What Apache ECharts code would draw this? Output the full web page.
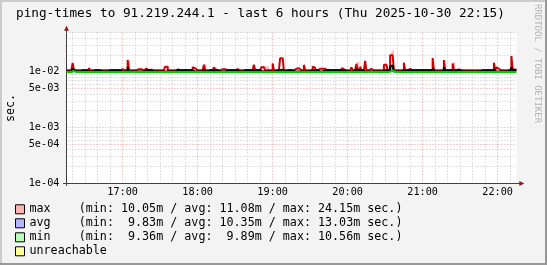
<!DOCTYPE html>
<html><head><meta charset="utf-8">
<script src="https://cdn.jsdelivr.net/npm/echarts@6/dist/echarts.min.js"></script>
<style>html,body{margin:0;padding:0;background:#f3f3f3;}#c{width:547px;height:265px;}</style>
</head><body><div id="c"></div>
<script>
const titleText = 'ping-times to 91.219.244.1 - last 6 hours (Thu 2025-10-30 22:15)';
const startMin = 975, endMin = 1335, stepMin = 1;   // 16:15 .. 22:15, 1-minute samples
const hourTicks = [1020, 1080, 1140, 1200, 1260, 1320];
const hourLabels = ['17:00', '18:00', '19:00', '20:00', '21:00', '22:00'];
const yLabelValues = [1e-4, 5e-4, 1e-3, 5e-3, 1e-2];
const yLabelTexts = ['1e-04', '5e-04', '1e-03', '5e-03', '1e-02'];
const yMin = 1e-4, yMax = 5e-2;

// values in milliseconds, one per minute from 16:15
const maxMs = [
10.6,10.6,10.6,10.6,10.6,14.3,10.6,10.6,10.6,10.6,10.6,10.6,10.6,10.6,11.0,10.6,10.6,10.6,11.6,10.6,
10.6,10.6,10.6,10.6,10.6,10.6,10.6,10.6,10.6,10.6,10.6,10.6,10.6,10.6,10.6,10.6,10.6,10.6,10.6,10.6,
10.6,10.6,10.6,11.1,11.1,10.6,10.6,10.6,10.6,16.2,10.6,10.6,10.6,10.6,10.6,10.6,10.6,11.1,11.1,11.1,
10.6,10.6,10.6,11.4,11.4,10.6,10.6,10.9,10.6,10.6,10.6,10.6,10.6,10.6,10.6,10.6,10.6,10.6,10.6,12.3,
12.3,10.6,10.6,10.6,10.6,10.6,10.6,10.6,10.6,11.0,10.6,10.6,10.6,10.6,10.6,10.6,10.6,10.6,10.6,10.6,
10.6,12.0,11.5,10.6,10.6,10.6,10.6,10.6,10.6,10.6,13.3,10.6,10.6,10.6,10.6,10.6,10.6,10.6,12.0,11.0,
10.6,10.6,10.6,10.6,11.1,11.1,11.1,10.6,10.6,10.6,10.6,10.6,10.6,10.6,10.6,10.6,11.1,11.1,10.6,10.6,
10.6,10.6,10.6,10.6,10.6,10.6,10.6,10.6,10.6,10.6,13.3,10.6,10.6,10.6,10.6,10.6,12.0,12.0,11.5,10.6,
10.6,10.6,10.6,10.6,10.6,14.0,10.6,10.6,10.6,10.6,10.6,17.5,17.5,17.5,10.6,10.6,10.6,10.6,11.4,10.6,
10.6,10.6,11.5,11.3,11.5,11.5,11.3,10.6,10.6,10.6,13.2,10.6,10.6,10.6,10.6,10.6,10.6,12.3,11.8,10.6,
10.6,11.3,11.3,11.3,11.3,11.3,11.3,10.6,10.6,10.6,10.6,10.6,10.6,10.9,10.6,10.6,10.6,10.6,10.6,11.5,
11.5,10.6,10.6,10.6,10.6,10.6,10.6,10.6,12.0,10.6,10.6,10.6,13.8,10.6,10.6,12.3,10.6,10.6,10.6,15.7,
10.6,10.6,11.2,11.2,10.6,10.6,10.6,10.6,10.6,10.6,10.6,10.6,10.6,10.6,13.3,13.3,13.3,10.6,10.6,19.7,
19.7,19.7,10.6,10.6,10.6,10.6,10.6,10.6,10.6,10.6,14.5,10.6,10.6,10.6,11.2,11.2,10.6,10.6,10.6,10.6,
10.6,10.6,10.6,10.6,10.6,11.5,10.6,10.6,10.6,10.6,10.6,10.6,10.6,17.6,10.6,10.6,10.6,10.6,10.6,10.6,
10.6,10.6,16.2,10.6,10.6,10.6,10.6,10.6,10.6,14.1,10.6,10.6,10.6,11.0,10.6,10.6,10.6,10.6,10.6,10.6,
10.6,10.6,11.0,10.6,10.6,10.6,10.6,10.6,10.6,10.6,10.6,10.6,10.6,10.6,10.6,10.6,10.6,10.6,10.6,10.6,
10.6,10.6,14.5,10.6,12.0,11.3,10.6,10.6,10.6,10.6,11.0,10.6,10.6,10.6,10.6,10.6,19.1,11.0,11.0,10.6
];
// highest single ping per minute (pale area above the max line)
const peakMs = [
10.6,10.6,10.6,10.6,10.6,14.3,10.6,10.6,10.6,10.6,10.6,10.6,10.6,10.6,11.0,10.6,10.6,10.6,11.6,10.6,
10.6,10.6,10.6,10.6,10.6,10.6,10.6,10.6,10.6,10.6,10.6,10.6,10.6,10.6,10.6,10.6,10.6,10.6,10.6,10.6,
10.6,10.6,10.6,11.1,11.1,10.6,10.6,10.6,10.6,16.2,16.5,10.6,10.6,10.6,10.6,10.6,10.6,11.1,11.1,11.1,
10.6,10.6,10.6,11.4,11.4,10.6,10.6,10.9,10.6,10.6,10.6,10.6,10.6,10.6,10.6,10.6,10.6,10.6,10.6,12.3,
12.6,12.6,10.6,10.6,10.6,10.6,10.6,10.6,10.6,11.0,10.6,10.6,10.6,10.6,10.6,10.6,10.6,10.6,10.6,10.6,
10.6,12.0,12.3,10.6,10.6,10.6,10.6,10.6,10.6,10.6,13.6,13.6,10.6,10.6,10.6,10.6,10.6,10.6,12.0,12.3,
10.6,10.6,10.6,10.6,11.1,11.1,11.1,10.6,10.6,11.3,10.6,10.6,10.6,10.6,10.6,10.6,11.1,11.1,10.6,10.6,
10.6,10.6,10.6,10.6,10.6,10.6,10.6,10.6,10.6,10.6,13.3,10.6,10.6,10.6,10.6,12.6,12.6,12.6,12.6,12.6,
12.6,12.6,10.6,10.6,10.6,14.0,10.6,10.6,10.6,10.6,10.6,17.5,17.5,17.5,10.6,10.6,10.6,10.6,11.4,10.6,
10.6,10.6,11.5,11.3,11.5,11.5,11.3,10.6,10.6,10.6,13.8,10.6,10.6,10.6,10.6,10.6,10.6,12.3,11.8,10.6,
10.6,11.3,11.3,11.3,11.3,11.3,11.3,10.6,10.6,10.6,10.6,10.6,10.6,10.9,10.6,10.6,10.6,10.6,10.6,12.0,
12.0,10.6,10.6,10.6,10.6,10.6,10.6,10.6,12.0,10.6,10.6,10.6,14.9,14.9,10.6,12.3,10.6,10.6,10.6,15.7,
10.6,10.6,11.2,11.2,10.6,10.6,10.6,10.6,10.6,10.6,10.6,10.6,10.6,10.6,13.3,13.3,13.3,10.6,10.6,19.7,
23.0,24.15,10.6,10.6,10.6,10.6,10.6,10.6,10.6,10.6,14.5,10.6,10.6,10.6,11.2,11.2,11.4,10.6,10.6,10.6,
10.6,10.6,10.6,10.6,10.6,11.5,10.6,10.6,10.6,10.6,10.6,10.6,10.6,18.0,10.6,10.6,10.6,10.6,10.6,10.6,
10.6,10.6,16.2,10.6,10.6,10.6,10.6,10.6,10.6,14.8,14.8,10.6,10.6,11.0,10.6,10.6,10.6,10.6,10.6,10.6,
10.6,10.6,11.0,10.6,10.6,10.6,10.6,10.6,10.6,10.6,10.6,10.6,10.6,10.6,10.6,10.6,10.6,10.6,10.6,10.6,
10.6,10.6,14.5,10.6,12.0,11.3,10.6,10.6,10.6,10.6,11.0,10.6,10.6,10.6,10.6,10.6,19.1,11.0,11.0,10.6
];
const avgMs = [
10.1,10.1,10.1,10.1,10.6,11.3,10.6,10.6,10.1,10.1,10.1,10.1,10.6,10.6,10.6,10.6,10.6,10.6,10.1,10.1,
10.1,10.1,10.6,10.6,10.6,10.6,10.6,10.6,10.1,10.1,10.1,10.1,10.1,10.1,10.6,10.6,10.6,10.6,10.6,10.6,
10.6,10.6,10.6,10.6,10.1,10.1,10.1,10.1,10.1,12.1,10.1,10.1,10.1,10.1,10.1,10.1,10.1,10.1,10.1,10.1,
10.1,10.1,10.6,10.6,10.6,10.6,10.6,10.6,10.1,10.1,10.1,10.1,10.1,10.1,10.1,10.1,10.1,10.1,10.1,10.1,
10.1,10.1,10.1,10.1,10.1,10.1,10.1,10.1,10.1,11.0,10.6,10.6,10.6,10.6,10.6,10.6,10.6,10.6,10.6,10.6,
10.6,10.6,10.1,10.1,10.1,10.1,10.1,10.1,10.1,10.1,11.0,10.1,10.1,10.1,10.6,10.6,10.6,10.6,10.6,10.6,
10.6,10.6,10.1,10.1,10.1,10.1,10.1,10.1,10.6,10.6,10.6,10.6,10.6,10.6,10.6,10.6,10.6,10.6,10.1,10.1,
10.1,10.1,10.6,10.6,10.6,10.6,10.6,10.6,10.6,10.6,10.6,10.6,10.6,10.6,10.6,10.6,10.1,10.1,10.1,10.1,
10.1,10.1,10.1,10.1,10.1,10.9,10.1,10.1,10.6,10.6,10.6,10.9,10.9,10.6,10.1,10.1,10.6,10.6,10.6,10.6,
10.6,10.6,10.1,10.1,10.1,10.1,10.1,10.1,10.1,10.1,10.1,10.1,10.1,10.1,10.1,10.1,10.6,10.6,10.6,10.6,
10.6,10.6,10.1,10.1,10.1,10.1,10.6,10.6,10.6,10.6,10.6,10.6,10.6,10.6,10.6,10.6,10.6,10.6,10.6,10.6,
10.6,10.6,10.6,10.6,10.1,10.1,10.1,10.1,10.1,10.1,10.6,10.6,11.0,10.6,10.6,10.6,10.6,10.6,10.1,10.9,
10.1,10.1,10.1,10.1,10.1,10.1,10.1,10.1,10.1,10.1,10.1,10.1,10.1,10.1,10.6,10.6,10.6,10.6,10.6,12.4,
13.0,12.8,10.1,10.1,10.1,10.1,10.1,10.1,10.6,10.6,11.0,10.6,10.6,10.6,10.6,10.6,10.6,10.6,10.6,10.6,
10.6,10.6,10.6,10.6,10.6,10.6,10.6,10.6,10.6,10.6,10.6,10.6,10.1,11.2,10.1,10.1,10.1,10.1,10.1,10.1,
10.6,10.6,12.0,10.6,10.6,10.6,10.6,10.6,10.6,10.6,10.6,10.6,10.6,10.6,10.6,10.6,10.1,10.1,10.1,10.1,
10.1,10.1,10.1,10.1,10.1,10.1,10.1,10.1,10.1,10.1,10.1,10.1,10.6,10.6,10.6,10.6,10.6,10.6,10.6,10.6,
10.6,10.6,11.0,10.1,10.1,10.1,10.1,10.1,10.1,10.1,10.1,10.1,10.1,10.1,10.6,10.6,12.0,10.6,10.6,10.6
];
const minMs = [
9.9,9.9,9.9,9.9,9.9,10.3,9.9,9.9,9.85,9.85,9.85,9.85,9.85,9.85,9.85,9.85,9.85,9.85,9.85,9.85,
9.85,9.85,9.9,9.9,9.9,9.9,9.85,9.85,9.85,9.85,9.85,9.85,9.85,9.85,9.85,9.85,9.4,9.85,9.85,9.85,
9.85,9.85,9.85,9.85,9.85,9.85,9.4,9.85,9.85,10.0,9.85,9.85,9.85,9.85,9.85,9.85,9.85,9.85,9.5,9.85,
9.85,9.85,9.9,9.9,9.9,9.9,9.85,9.85,9.85,9.85,9.85,9.85,9.85,9.85,9.85,9.85,9.85,9.85,9.85,9.85,
9.9,9.85,9.85,9.85,9.85,9.85,9.85,9.85,9.85,9.85,9.9,9.9,9.85,9.85,9.85,9.85,9.85,9.85,9.85,9.85,
9.9,9.9,9.85,9.85,9.85,9.85,9.85,9.85,9.85,9.85,9.9,9.9,9.5,9.85,9.85,9.85,9.85,9.85,9.85,9.85,
9.85,9.85,9.85,9.85,9.85,9.85,9.85,9.85,9.85,9.85,9.85,9.85,9.85,9.85,9.85,9.85,9.85,9.85,9.85,9.85,
9.5,9.85,9.85,9.85,9.85,9.85,9.85,9.85,9.85,9.85,9.85,9.85,9.85,9.85,9.85,9.85,9.85,9.85,9.85,9.85,
9.85,9.85,9.85,9.85,9.9,9.9,9.85,9.85,9.85,9.85,9.85,10.0,10.0,9.85,9.85,9.85,9.5,9.85,9.85,9.85,
9.85,9.85,9.85,9.85,9.85,9.85,9.85,9.85,9.85,9.85,9.9,9.9,9.85,9.85,9.85,9.85,9.85,9.85,9.85,9.85,
9.6,9.85,9.85,9.85,9.85,9.85,9.85,9.85,9.85,9.85,9.85,9.85,9.85,9.85,9.85,9.85,9.85,9.85,9.85,9.85,
9.85,9.85,9.85,9.85,9.85,9.85,9.85,9.85,9.85,9.85,9.85,9.85,9.9,9.9,9.85,9.85,9.85,9.85,9.85,9.85,
9.85,9.85,9.85,9.85,9.85,9.85,9.85,9.85,9.5,9.85,9.85,9.85,9.85,9.85,9.85,9.85,9.85,9.85,9.85,10.2,
10.56,10.3,9.85,9.85,9.85,9.85,9.85,9.85,9.85,9.85,9.9,9.9,9.85,9.85,9.85,9.85,9.85,9.85,9.85,9.85,
9.85,9.85,9.85,9.85,9.85,9.85,9.85,9.85,9.85,9.85,9.85,9.85,9.9,9.9,9.85,9.85,9.6,9.85,9.85,9.85,
9.85,9.85,10.0,9.85,9.85,9.85,9.85,9.85,9.9,9.9,9.85,9.85,9.85,9.85,9.85,9.85,9.85,9.85,9.85,9.85,
9.5,9.85,9.85,9.85,9.85,9.85,9.85,9.85,9.85,9.85,9.85,9.85,9.85,9.85,9.85,9.85,9.85,9.85,9.85,9.85,
9.85,9.85,9.9,9.9,9.85,9.85,9.85,9.85,9.85,9.85,9.85,9.85,9.85,9.85,9.85,9.85,10.0,9.85,9.85,9.85
];
const legendNames = ['max', 'avg', 'min', 'unreachable'];
const legendTexts = {
  max: 'max    (min: 10.05m / avg: 11.08m / max: 24.15m sec.)',
  avg: 'avg    (min:  9.83m / avg: 10.35m / max: 13.03m sec.)',
  min: 'min    (min:  9.36m / avg:  9.89m / max: 10.56m sec.)',
  unreachable: 'unreachable'
};

const F = 'DejaVu Sans Mono';
const COL = { pink: '#ffb4b4', blue: '#b4b4ff', green: '#b4ffb4', yellow: '#ffff9a',
  red: '#cc0000', black: '#000000', dgreen: '#00cc00', gridGrey: '#c6c6c6', gridRed: '#ef9c9c',
  axis: '#404040', arrow: '#8e1b1b' };

const times = maxMs.map((_, i) => startMin + i * stepMin);
const stepPts = arr => {
  const d = arr.map((v, i) => [times[i], v / 1000]);
  d.push([endMin, arr[arr.length - 1] / 1000]);
  return d;
};
const bandRows = (lo, hi) => lo.map((v, i) => [times[i], v / 1000, hi[i] / 1000]);

// grid line positions
const minorX = [];
for (let m = startMin + 5; m < endMin; m += 10) if (m % 60 !== 0) minorX.push(m);
const L = Math.log10;
const minorY = [];
[-4, -3, -2].forEach(d => [2, 3, 4, 6, 7, 8, 9].forEach(k => {
  const v = L(k) + d; if (v <= L(yMax) + 1e-9) minorY.push(v);
}));
minorY.push(L(yMax));
const majorY = yLabelValues.map(v => L(v));

const bandItem = color => (params, api) => {
  const t = api.value(0), lo = api.value(1), hi = api.value(2);
  if (!(hi > lo)) return null;
  const p1 = api.coord([t, hi]);
  const p2 = api.coord([t + stepMin, lo]);
  return { type: 'rect', shape: { x: p1[0], y: p1[1], width: p2[0] - p1[0], height: p2[1] - p1[1] },
    style: { fill: color } };
};

const chart = echarts.init(document.getElementById('c'), null, { renderer: 'canvas' });
chart.setOption({
  animation: false,
  backgroundColor: '#f3f3f3',
  title: { text: titleText, left: 16, top: 6, padding: 0,
    textStyle: { fontFamily: F, fontSize: 12.7, fontWeight: 'normal', color: '#000', lineHeight: 15 } },
  grid: { left: 66.4, right: 30.6, top: 32.7, bottom: 81.7, show: true, backgroundColor: '#ffffff',
    borderWidth: 0, containLabel: false, outerBoundsMode: 'none' },
  legend: {
    orient: 'vertical', left: 15, top: 202.3, padding: 0, itemGap: 0, itemWidth: 9, itemHeight: 9,
    icon: 'rect', selectedMode: false,
    textStyle: { fontFamily: F, fontSize: 11.7, lineHeight: 14, color: '#000' },
    formatter: name => legendTexts[name],
    data: [
      { name: 'max', itemStyle: { color: COL.pink, borderColor: '#000', borderWidth: 1 } },
      { name: 'avg', itemStyle: { color: COL.blue, borderColor: '#000', borderWidth: 1 } },
      { name: 'min', itemStyle: { color: COL.green, borderColor: '#000', borderWidth: 1 } },
      { name: 'unreachable', itemStyle: { color: COL.yellow, borderColor: '#000', borderWidth: 1 } }
    ]
  },
  xAxis: [
    { type: 'value', min: startMin, max: endMin, position: 'bottom',
      axisLine: { show: true, lineStyle: { color: COL.axis, width: 1 } },
      axisTick: { show: false, customValues: hourTicks },
      axisLabel: { show: true, customValues: hourTicks, margin: 4, fontFamily: F, fontSize: 10.2, color: '#000',
        formatter: v => hourLabels[hourTicks.indexOf(Math.round(v))] || '' },
      splitLine: { show: true, lineStyle: { color: COL.gridRed, width: 1, type: [1, 2] } } },
    { type: 'value', min: startMin, max: endMin, position: 'bottom',
      axisLine: { show: false }, axisLabel: { show: false },
      axisTick: { show: false, customValues: minorX },
      splitLine: { show: true, lineStyle: { color: COL.gridGrey, width: 1, type: [1, 2] } } }
  ],
  yAxis: [
    { type: 'log', logBase: 10, min: yMin, max: yMax, position: 'left',
      name: 'sec.', nameLocation: 'middle', nameRotate: 90, nameGap: 49,
      nameTextStyle: { fontFamily: F, fontSize: 11.7, color: '#000' },
      axisLine: { show: true, lineStyle: { color: COL.axis, width: 1 } },
      axisTick: { show: false }, axisLabel: { show: false }, splitLine: { show: false } },
    { type: 'value', min: L(yMin), max: L(yMax), position: 'left',
      axisLine: { show: false }, axisLabel: { show: false },
      axisTick: { show: false, customValues: minorY },
      splitLine: { show: true, lineStyle: { color: COL.gridGrey, width: 1, type: [1, 2] } } },
    { type: 'value', min: L(yMin), max: L(yMax), position: 'left',
      axisLine: { show: false },
      axisTick: { show: false, customValues: majorY },
      axisLabel: { show: true, customValues: majorY, margin: 7, fontFamily: F, fontSize: 10.2, color: '#000',
        formatter: v => { const i = majorY.findIndex(m => Math.abs(m - v) < 1e-6); return i >= 0 ? yLabelTexts[i] : ''; } },
      splitLine: { show: true, lineStyle: { color: COL.gridRed, width: 1, type: [1, 2] } } }
  ],
  series: [
    { name: 'max', type: 'custom', xAxisIndex: 0, yAxisIndex: 0, renderItem: bandItem(COL.pink),
      encode: { x: 0, y: [1, 2] }, data: bandRows(maxMs, peakMs), silent: true, z: 2 },
    { name: 'avg', type: 'custom', xAxisIndex: 0, yAxisIndex: 0, renderItem: bandItem(COL.blue),
      encode: { x: 0, y: [1, 2] }, data: bandRows(minMs, avgMs), silent: true, z: 2 },
    { name: 'maxLine', type: 'line', step: 'end', symbol: 'none', data: stepPts(maxMs),
      lineStyle: { color: COL.red, width: 2 }, silent: true, z: 3 },
    { name: 'avgLine', type: 'line', step: 'end', symbol: 'none', data: stepPts(avgMs),
      lineStyle: { color: COL.black, width: 2 }, silent: true, z: 4 },
    { name: 'min', type: 'line', step: 'end', symbol: 'none', data: stepPts(minMs),
      itemStyle: { color: COL.dgreen },
      lineStyle: { color: COL.dgreen, width: 2 }, silent: true, z: 5 },
    { name: 'unreachable', type: 'line', data: [], symbol: 'none', itemStyle: { color: COL.yellow } }
  ],
  graphic: [
    { type: 'line', silent: true, shape: { x1: 63, y1: 183.5, x2: 520, y2: 183.5 }, style: { stroke: COL.axis, lineWidth: 1 } },
    { type: 'line', silent: true, shape: { x1: 66.5, y1: 186, x2: 66.5, y2: 30 }, style: { stroke: COL.axis, lineWidth: 1 } },
    { type: 'polygon', silent: true, shape: { points: [[519.3, 181], [524.3, 183.5], [519.3, 186]] }, style: { fill: COL.arrow } },
    { type: 'polygon', silent: true, shape: { points: [[64, 30.7], [66.5, 25.7], [69, 30.7]] }, style: { fill: COL.arrow } },
    { type: 'text', silent: true, x: 537.5, y: 63.5, rotation: -Math.PI / 2,
      style: { text: 'RRDTOOL / TOBI OETIKER', font: '9px "DejaVu Sans Mono"', fill: '#b4b4b4',
        align: 'center', verticalAlign: 'middle' } },
    { type: 'rect', silent: true, shape: { x: 0, y: 0, width: 547, height: 2 }, style: { fill: '#cbcbcb' } },
    { type: 'rect', silent: true, shape: { x: 0, y: 0, width: 2, height: 265 }, style: { fill: '#cbcbcb' } },
    { type: 'rect', silent: true, shape: { x: 545, y: 0, width: 2, height: 265 }, style: { fill: '#999999' } },
    { type: 'rect', silent: true, shape: { x: 0, y: 263, width: 547, height: 2 }, style: { fill: '#999999' } }
  ]
});
</script></body></html>
